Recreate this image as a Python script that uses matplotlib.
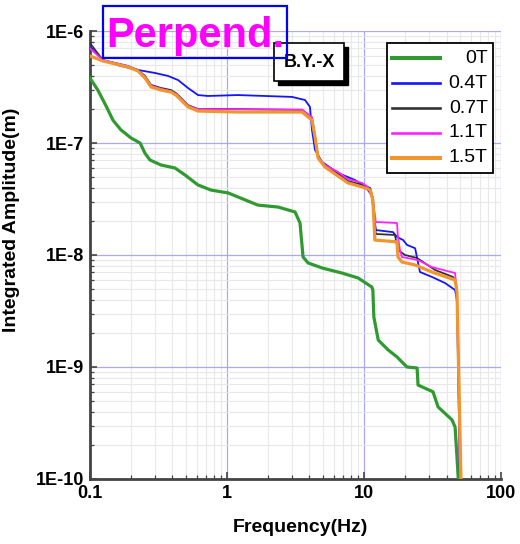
import matplotlib
matplotlib.use("Agg")
import matplotlib.pyplot as plt
from matplotlib.lines import Line2D
from matplotlib.patches import Rectangle
from matplotlib.ticker import FixedLocator, LogLocator, NullFormatter, FixedFormatter

plt.rcParams['font.family'] = ['Liberation Sans', 'DejaVu Sans']

# Series
labels = ['0T', '0.4T', '0.7T', '1.1T', '1.5T']
colors = ['#2f9a2f', '#1414ff', '#333333', '#ff22ff', '#f0962e']
widths = [2.3, 1.3, 1.3, 1.3, 2.3]

freq_0T = [0.1, 0.114, 0.131, 0.147, 0.168, 0.199, 0.232, 0.252, 0.274, 0.33, 0.417, 0.494,
           0.614, 0.764, 1.02, 1.2, 1.68, 2.36, 3.14, 3.41, 3.59, 3.9, 4.94, 6.9, 9.04, 11.4,
           11.6, 11.8, 12.7, 15.0, 17.4, 18.9, 20.6, 24.4, 24.8, 31.9, 34.7, 43.9, 46.2, 47.7, 49.0]
amp_0T = [3.8e-7, 2.97e-7, 2.14e-7, 1.6e-7, 1.31e-7, 1.11e-7, 1.0e-7, 8.1e-8, 7.05e-8, 6.36e-8,
          5.98e-8, 5.18e-8, 4.22e-8, 3.8e-8, 3.58e-8, 3.3e-8, 2.79e-8, 2.68e-8, 2.42e-8, 1.93e-8,
          9.6e-9, 8.5e-9, 7.66e-9, 6.9e-9, 6.24e-9, 5.18e-9, 4.87e-9, 2.79e-9, 1.74e-9, 1.42e-9,
          1.23e-9, 1.11e-9, 1.0e-9, 9.8e-10, 6.9e-10, 6.0e-10, 4.4e-10, 3.37e-10, 2.91e-10,
          1.57e-10, 9e-11]

freq_04T = [0.1, 0.124, 0.168, 0.224, 0.298, 0.371, 0.439, 0.519, 0.614, 0.726, 1.2, 2.98, 3.71,
            4.03, 4.17, 4.39, 4.94, 6.46, 8.6, 10.2, 11.4, 11.8, 12.2, 16.3, 17.4, 19.3, 20.6,
            23.6, 24.4, 25.6, 31.3, 39.0, 46.2, 47.7, 50.2]
amp_04T = [7.2e-7, 5.5e-7, 4.87e-7, 4.49e-7, 4.22e-7, 3.97e-7, 3.65e-7, 3.1e-7, 2.68e-7, 2.63e-7,
           2.68e-7, 2.58e-7, 2.42e-7, 2.1e-7, 1.31e-7, 8.66e-8, 6.77e-8, 5.4e-8, 4.67e-8, 4.05e-8,
           3.43e-8, 2.28e-8, 1.67e-8, 1.6e-8, 1.45e-8, 1.36e-8, 1.23e-8, 1.15e-8, 9.4e-9, 7.05e-9,
           6.37e-9, 5.62e-9, 4.87e-9, 3.97e-9, 9.5e-11]

freq_07T = [0.1, 0.124, 0.189, 0.224, 0.252, 0.279, 0.33, 0.39, 0.424, 0.462, 0.519, 0.614, 1.2,
            3.53, 4.17, 4.39, 4.62, 5.19, 6.46, 7.64, 9.67, 11.1, 11.6, 12.2, 16.8, 17.7, 19.9,
            24.4, 33.0, 44.6, 47.0, 48.5, 50.2]
amp_07T = [7.8e-7, 5.5e-7, 4.87e-7, 4.49e-7, 3.97e-7, 3.3e-7, 3.1e-7, 2.97e-7, 2.79e-7, 2.52e-7,
           2.18e-7, 2.01e-7, 2.01e-7, 1.97e-7, 1.67e-7, 1.13e-7, 7.35e-8, 6.23e-8, 5.29e-8, 4.58e-8,
           4.22e-8, 3.96e-8, 3.23e-8, 1.54e-8, 1.51e-8, 1.11e-8, 1.0e-8, 9.4e-9, 7.35e-9, 6.37e-9,
           5.62e-9, 2.14e-9, 9.5e-11]

freq_11T = [0.1, 0.124, 0.189, 0.224, 0.252, 0.279, 0.33, 0.39, 0.424, 0.462, 0.519, 0.614, 1.2,
            3.53, 4.17, 4.39, 4.62, 5.19, 6.46, 7.64, 9.67, 10.7, 11.6, 12.2, 17.4, 17.7, 18.3,
            18.9, 24.8, 31.3, 46.2, 47.7, 50.2]
amp_11T = [7.0e-7, 5.5e-7, 4.87e-7, 4.4e-7, 3.9e-7, 3.25e-7, 3.05e-7, 2.9e-7, 2.75e-7, 2.48e-7,
           2.15e-7, 2.0e-7, 2.0e-7, 1.99e-7, 1.7e-7, 1.15e-7, 7.5e-8, 6.36e-8, 5.51e-8, 4.77e-8,
           4.4e-8, 4.05e-8, 3.1e-8, 1.97e-8, 1.93e-8, 1.45e-8, 1.11e-8, 9.6e-9, 9.0e-9, 7.8e-9,
           6.9e-9, 4.58e-9, 9.5e-11]

freq_15T = [0.1, 0.124, 0.189, 0.224, 0.252, 0.279, 0.33, 0.39, 0.424, 0.462, 0.519, 0.614, 1.2,
            3.53, 4.17, 4.39, 4.62, 5.19, 6.46, 7.64, 9.67, 11.1, 11.6, 12.0, 17.4, 17.7, 18.9,
            23.6, 31.3, 46.2, 47.7, 51.1]
amp_15T = [5.98e-7, 5.4e-7, 4.77e-7, 4.4e-7, 3.8e-7, 3.16e-7, 2.97e-7, 2.85e-7, 2.68e-7, 2.42e-7,
           2.1e-7, 1.93e-7, 1.89e-7, 1.89e-7, 1.6e-7, 1.13e-7, 7.35e-8, 6.1e-8, 5.07e-8, 4.4e-8,
           4.05e-8, 3.8e-8, 3.1e-8, 1.36e-8, 1.31e-8, 9.6e-9, 8.66e-9, 8.15e-9, 7.05e-9, 5.98e-9,
           4.67e-9, 9e-11]

xticks = [0.1, 1, 10, 100]
xtick_labels = ['0.1', '1', '10', '100']
yticks = [1e-10, 1e-9, 1e-8, 1e-7, 1e-6]
ytick_labels = ['1E-10', '1E-9', '1E-8', '1E-7', '1E-6']

series = [(freq_0T, amp_0T), (freq_04T, amp_04T), (freq_07T, amp_07T),
          (freq_11T, amp_11T), (freq_15T, amp_15T)]

fig = plt.figure(figsize=(5.2, 5.44), dpi=100)
ax = fig.add_axes([0.1731, 0.1195, 0.7904, 0.8235])
ax.set_xscale('log')
ax.set_yscale('log')
ax.set_xlim(0.1, 100)
ax.set_ylim(1e-10, 1e-6)

# gitter: major blau, minor grau
ax.xaxis.set_major_locator(FixedLocator(xticks))
ax.xaxis.set_major_formatter(FixedFormatter(xtick_labels))
ax.yaxis.set_major_locator(FixedLocator(yticks))
ax.yaxis.set_major_formatter(FixedFormatter(ytick_labels))
ax.xaxis.set_minor_locator(LogLocator(base=10, subs=range(2, 10)))
ax.yaxis.set_minor_locator(LogLocator(base=10, subs=range(2, 10)))
ax.xaxis.set_minor_formatter(NullFormatter())
ax.yaxis.set_minor_formatter(NullFormatter())
ax.grid(which='minor', color='#e8e8e8', lw=0.8)
ax.grid(which='major', color='#a8a8ff', lw=0.9)
ax.set_axisbelow(True)

for (f, a), c, w in zip(series, colors, widths):
    ax.plot(f, a, color=c, lw=w, zorder=3)

for side in ['top', 'right']:
    ax.spines[side].set_visible(False)
for side in ['left', 'bottom']:
    ax.spines[side].set_linewidth(2)
    ax.spines[side].set_color('#444444')

ax.tick_params(which='both', direction='in', top=False, right=False, color='#444444')
ax.tick_params(which='major', length=5, width=1.2, labelsize=13, pad=4)
ax.tick_params(which='minor', length=3, width=0.9)
for t in ax.get_xticklabels() + ax.get_yticklabels():
    t.set_fontweight('bold')

ax.set_xlabel('Frequency(Hz)', fontsize=14, fontweight='bold')
ax.set_ylabel('Integrated Amplitude(m)', fontsize=14, fontweight='bold')
ax.xaxis.set_label_coords(0.513, -0.090)
ax.yaxis.set_label_coords(-0.170, 0.578)

# Legende von Hand, Beschriftung rechtsbuendig
ax.add_patch(Rectangle((0.723, 0.683), 0.258, 0.290, transform=ax.transAxes,
                       fc='white', ec='black', lw=1.3, zorder=5))
for i, (lab, c, w) in enumerate(zip(labels, colors, widths)):
    yy = 0.939 - i * 0.0555
    ax.add_line(Line2D([0.735, 0.852], [yy, yy], transform=ax.transAxes,
                       color=c, lw=w + 0.6, zorder=6))
    ax.text(0.968, yy, lab, transform=ax.transAxes, ha='right', va='center',
            fontsize=14, zorder=6)

# Kasten B.Y.-X mit Schatten
ax.add_patch(Rectangle((0.458, 0.879), 0.170, 0.085, transform=ax.transAxes,
                       fc='black', ec='black', zorder=5))
ax.add_patch(Rectangle((0.448, 0.888), 0.170, 0.085, transform=ax.transAxes,
                       fc='white', ec='black', lw=1.2, zorder=6))
ax.text(0.533, 0.930, 'B.Y.-X', transform=ax.transAxes, ha='center', va='center',
        fontsize=13, fontweight='bold', zorder=7)

# Titel im blauen Rahmen
fig.patches.append(Rectangle((0.198, 0.893), 0.354, 0.096, transform=fig.transFigure,
                             fill=False, ec='#0000ff', lw=1.6, zorder=10))
fig.text(0.204, 0.9136, 'Perpend.', ha='left', va='baseline', fontsize=30,
         fontweight='bold', color='#ff00ff', zorder=11)

fig.savefig('out.png', dpi=100)
